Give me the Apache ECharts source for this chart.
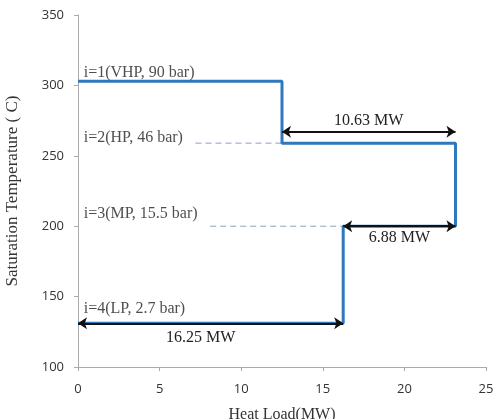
<!DOCTYPE html>
<html>
<head>
<meta charset="utf-8">
<script src="https://cdn.jsdelivr.net/npm/echarts@6/dist/echarts.min.js"></script>
<style>
  html, body { margin: 0; padding: 0; background: #fff; }
  #main { width: 499px; height: 419px; }
</style>
</head>
<body>
<div id="main"></div>
<script>
// 阶梯线: 各压力等级的饱和温度与热负荷
var stepLoad = [0, 12.5, 12.5, 23.13, 23.13, 16.25, 16.25, 0];
var stepTemp = [303, 303, 259, 259, 200, 200, 131, 131];

// 虚线 (HP, MP)
var dashHP = [[7.2, 259], [12.5, 259]];
var dashMP = [[8.1, 200], [16.25, 200]];

// 双箭头标注
var arrowNames = ['10.63 MW', '6.88 MW', '16.25 MW'];
var arrowFrom = [[12.5, 267], [16.25, 200], [0, 131]];
var arrowTo = [[23.13, 267], [23.13, 200], [16.25, 131]];
var arrowLabelPos = ['insideMiddleTop', 'insideMiddleBottom', 'insideMiddleBottom'];
var arrowLabelShift = [[0, 0], [0, 1], [-10, 3]];

// 压力等级文字
var levelNames = ['i=1(VHP, 90 bar)', 'i=2(HP, 46 bar)', 'i=3(MP, 15.5 bar)', 'i=4(LP, 2.7 bar)'];
var levelPos = [[0.35, 309], [0.35, 263], [0.35, 209], [0.35, 141]];

var xTicks = [0, 25, 5];
var yTicks = [100, 350, 50];

var chart = echarts.init(document.getElementById('main'));

var stepData = [];
for (var i = 0; i < stepLoad.length; i++) {
    stepData.push([stepLoad[i], stepTemp[i]]);
}

var arrowLines = [];
for (var k = 0; k < arrowNames.length; k++) {
    arrowLines.push([
        { coord: arrowFrom[k], label: { formatter: arrowNames[k], position: arrowLabelPos[k], offset: arrowLabelShift[k] } },
        { coord: arrowTo[k] }
    ]);
}

var levelData = [];
for (var j = 0; j < levelNames.length; j++) {
    levelData.push({ value: levelPos[j], name: levelNames[j] });
}

var serif = '"Liberation Serif", "DejaVu Serif", serif';
var sans = '"Open Sans", sans-serif';

var option = {
    animation: false,
    grid: { left: 78, right: 13, top: 15, bottom: 52, outerBoundsMode: 'none', containLabel: false },
    xAxis: {
        type: 'value',
        min: xTicks[0], max: xTicks[1], interval: xTicks[2],
        name: 'Heat Load(MW)',
        nameLocation: 'middle',
        nameGap: 40,
        nameTextStyle: { fontFamily: serif, fontSize: 16, color: '#333' },
        splitLine: { show: false },
        axisLine: { lineStyle: { color: '#aaa' } },
        axisTick: { show: true, length: 4, lineStyle: { color: '#aaa' } },
        axisLabel: { fontFamily: sans, fontSize: 13, color: '#333', margin: 16 }
    },
    yAxis: {
        type: 'value',
        min: yTicks[0], max: yTicks[1], interval: yTicks[2],
        name: 'Saturation Temperature ( C)',
        nameLocation: 'middle',
        nameGap: 57,
        nameTextStyle: { fontFamily: serif, fontSize: 17, color: '#333' },
        splitLine: { show: false },
        axisLine: { show: true, lineStyle: { color: '#aaa' } },
        axisTick: { show: true, length: 4, lineStyle: { color: '#aaa' } },
        axisLabel: { fontFamily: sans, fontSize: 13, color: '#333', margin: 14 }
    },
    series: [
        {
            type: 'line',
            data: stepData,
            showSymbol: false,
            lineStyle: { color: '#2e78bd', width: 3 },
            z: 2,
            markLine: {
                silent: true,
                symbol: ['arrow', 'arrow'],
                symbolSize: [9, 9],
                lineStyle: { color: '#111', width: 2, type: 'solid' },
                label: {
                    show: true,
                    fontFamily: serif,
                    fontSize: 16,
                    color: '#222',
                    distance: 3
                },
                data: arrowLines
            }
        },
        {
            type: 'line',
            data: dashHP,
            showSymbol: false,
            lineStyle: { color: '#8e9fc0', width: 1, type: [6, 4] },
            z: 1
        },
        {
            type: 'line',
            data: dashMP,
            showSymbol: false,
            lineStyle: { color: '#8e9fc0', width: 1, type: [6, 4] },
            z: 1
        },
        {
            type: 'scatter',
            data: levelData,
            symbolSize: 0,
            label: {
                show: true,
                position: 'right',
                distance: 0,
                formatter: '{b}',
                fontFamily: serif,
                fontSize: 16,
                color: '#222'
            },
            z: 3
        }
    ]
};
chart.setOption(option);
</script>
</body>
</html>
